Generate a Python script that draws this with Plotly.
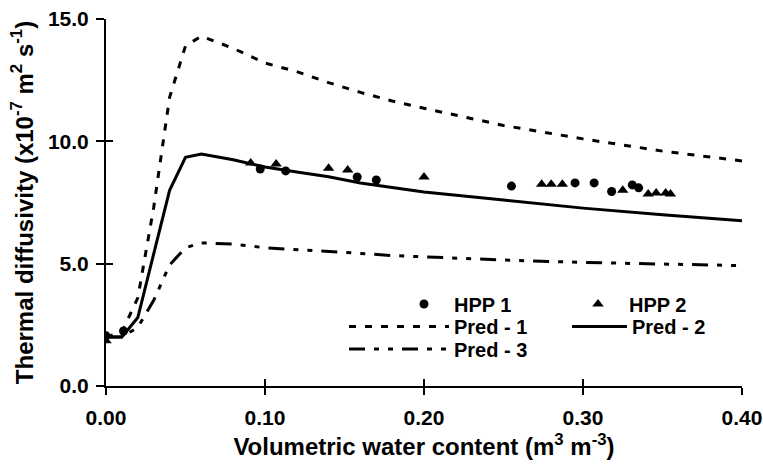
import plotly.graph_objects as go

# ---- data ----
hpp1_x = [0.0, 0.011, 0.097, 0.113, 0.158, 0.170, 0.255, 0.295, 0.307, 0.318, 0.331, 0.335]
hpp1_y = [2.05, 2.25, 8.87, 8.79, 8.54, 8.42, 8.17, 8.30, 8.30, 7.95, 8.22, 8.10]
hpp2_x = [0.0, 0.091, 0.107, 0.140, 0.152, 0.200, 0.274, 0.280, 0.287, 0.325, 0.341, 0.346, 0.352, 0.355]
hpp2_y = [1.85, 9.11, 9.07, 8.90, 8.83, 8.54, 8.25, 8.25, 8.25, 8.00, 7.85, 7.89, 7.89, 7.85]

pred_x = [0.00, 0.01, 0.02, 0.03, 0.04, 0.05, 0.06, 0.08, 0.10, 0.12, 0.14, 0.16,
          0.18, 0.20, 0.25, 0.30, 0.35, 0.40]
pred1_y = [2.0, 2.2, 3.6, 7.3, 11.8, 13.9, 14.3, 13.8, 13.2, 12.85, 12.4, 12.0,
           11.65, 11.35, 10.65, 10.1, 9.6, 9.2]
pred2_y = [2.0, 2.0, 2.8, 5.4, 8.0, 9.35, 9.48, 9.25, 8.95, 8.75, 8.55, 8.3,
           8.1, 7.93, 7.6, 7.27, 7.0, 6.75]
pred3_y = [2.0, 2.0, 2.4, 3.5, 4.95, 5.65, 5.85, 5.8, 5.65, 5.58, 5.52, 5.42,
           5.33, 5.27, 5.15, 5.05, 4.98, 4.92]

x_ticks = [0.0, 0.1, 0.2, 0.3, 0.4]
x_ticklabels = ["0.00", "0.10", "0.20", "0.30", "0.40"]
y_ticks = [0, 5, 10, 15]
y_ticklabels = ["0.0", "5.0", "10.0", "15.0"]

FONT = "Liberation Sans, Arial, sans-serif"

fig = go.Figure()
fig.add_trace(go.Scatter(x=hpp1_x, y=hpp1_y, mode="markers", name="HPP 1",
                         marker=dict(symbol="circle", size=9, color="black"),
                         legend="legend"))
fig.add_trace(go.Scatter(x=hpp2_x, y=hpp2_y, mode="markers", name="HPP 2",
                         marker=dict(symbol="triangle-up", size=10, color="black"),
                         legend="legend2"))
fig.add_trace(go.Scatter(x=pred_x, y=pred1_y, mode="lines", name="Pred - 1",
                         line=dict(color="black", width=3, dash="7px,9px"),
                         legend="legend3"))
fig.add_trace(go.Scatter(x=pred_x, y=pred2_y, mode="lines", name="Pred - 2",
                         line=dict(color="black", width=3),
                         legend="legend4"))
fig.add_trace(go.Scatter(x=pred_x, y=pred3_y, mode="lines", name="Pred - 3",
                         line=dict(color="black", width=3, dash="16px,9px,5px,9px,5px,9px"),
                         legend="legend5"))
# overlay axes carrying the inner half of the crossing ticks
fig.add_trace(go.Scatter(x=[], y=[], xaxis="x2", yaxis="y2", showlegend=False))

L, R, T, B = 106, 21, 19, 84
W, H = 763, 470
pw, ph = W - L - R, H - T - B


def px_to_paper_x(px):
    return (px - L) / pw


def px_to_paper_y(py):
    return (H - B - py) / ph


def leg(left_px, center_py, itemwidth):
    return dict(x=px_to_paper_x(left_px), y=px_to_paper_y(center_py),
                xanchor="left", yanchor="middle", bgcolor="rgba(0,0,0,0)",
                font=dict(size=20), itemwidth=itemwidth, tracegroupgap=0,
                visible=True)


axis_common = dict(showgrid=False, zeroline=False, color="black", automargin=False)
fig.update_layout(
    width=W, height=H,
    showlegend=True,
    margin=dict(l=L, r=R, t=T, b=B, autoexpand=False),
    paper_bgcolor="white", plot_bgcolor="white",
    font=dict(family=FONT, size=21, color="black", weight="bold"),
    xaxis=dict(range=[0, 0.4], tickvals=x_ticks, ticktext=x_ticklabels,
               showline=True, linewidth=2, linecolor="black",
               ticks="outside", ticklen=7, tickwidth=2, tickcolor="black",
               tickfont=dict(size=21), ticklabelstandoff=5,
               title=dict(text="Volumetric water content (m<sup>3</sup> m<sup>-3</sup>)",
                          font=dict(size=24), standoff=10),
               **axis_common),
    yaxis=dict(range=[0, 15], tickvals=y_ticks, ticktext=y_ticklabels,
               showline=True, linewidth=2, linecolor="black",
               ticks="outside", ticklen=8, tickwidth=2, tickcolor="black",
               tickfont=dict(size=21), ticklabelstandoff=3,
               title=dict(text="Thermal diffusivity (x10<sup>-7</sup> m<sup>2</sup> s<sup>-1</sup>)",
                          font=dict(size=24), standoff=8),
               **axis_common),
    xaxis2=dict(range=[0, 0.4], tickvals=x_ticks, overlaying="x", anchor="y2",
                showticklabels=False, ticks="inside", ticklen=7, tickwidth=2,
                tickcolor="black", showline=False, **axis_common),
    yaxis2=dict(range=[0, 15], tickvals=y_ticks, overlaying="y", anchor="x2",
                showticklabels=False, ticks="inside", ticklen=7, tickwidth=2,
                tickcolor="black", showline=False, **axis_common),
    legend=leg(394, 304, 50),
    legend3=leg(344, 326.5, 100),
    legend5=leg(344, 349, 100),
    legend2=leg(567, 304, 52),
    legend4=leg(567, 326.5, 55),
)

fig.write_html("out.html")
